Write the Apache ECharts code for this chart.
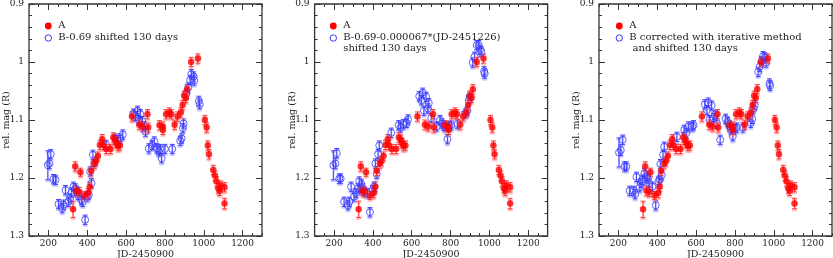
<!DOCTYPE html>
<html><head><meta charset="utf-8">
<script src="https://cdn.jsdelivr.net/npm/echarts@6/dist/echarts.min.js"></script>
<style>html,body{margin:0;padding:0;background:#fff}#c{width:833px;height:258px}</style>
</head><body><div id="c"></div>
<script>
// ---- Data ----
const xTickLabels = [200, 400, 600, 800, 1000, 1200];
const xMinorTicks = [100,150,250,300,350,450,500,550,650,700,750,850,900,950,1050,1100,1150,1250,1300];
const panelLegendB = [
  ['B-0.69 shifted 130 days'],
  ['B-0.69-0.000067*(JD-2451226)', 'shifted 130 days'],
  ['B corrected with iterative method', ' and shifted 130 days']
];

const aX = [327,338,365,344,359,386,405,413,420,436,444,455,465,477,482,498,520,534,544,551,558,568,630,668,685,710,714,772,789,790,806,823,833,850,865,882,891,899,908,915,935,970,1006,1015,1021,1027,1049,1058,1066,1075,1082,1088,1107,1107];
const aY = [1.254,1.180,1.190,1.222,1.224,1.230,1.226,1.215,1.188,1.175,1.171,1.162,1.143,1.133,1.143,1.150,1.150,1.130,1.134,1.140,1.145,1.144,1.094,1.108,1.111,1.090,1.113,1.109,1.111,1.117,1.090,1.087,1.090,1.108,1.094,1.087,1.074,1.058,1.062,1.047,1.000,0.994,1.100,1.113,1.144,1.159,1.186,1.196,1.206,1.218,1.222,1.213,1.216,1.244];
const aErr = [0.014,0.008,0.007,0.008,0.008,0.007,0.008,0.008,0.008,0.008,0.008,0.007,0.008,0.008,0.008,0.008,0.008,0.008,0.008,0.008,0.008,0.008,0.008,0.008,0.008,0.008,0.008,0.008,0.008,0.008,0.008,0.008,0.008,0.008,0.008,0.008,0.008,0.008,0.008,0.008,0.008,0.008,0.008,0.008,0.008,0.008,0.008,0.008,0.008,0.008,0.008,0.008,0.008,0.009];

const b1X = [197,205,212,226,237,252,271,278,288,303,312,319,329,339,347,353,370,377,389,401,408,415,422,429,436,497,544,556,570,583,638,649,659,666,673,683,693,700,717,735,745,759,769,776,783,800,838,879,886,893,896,910,920,930,936,948,951,975,979];
const b1Y = [1.178,1.175,1.159,1.202,1.203,1.245,1.252,1.246,1.221,1.241,1.235,1.225,1.215,1.218,1.224,1.229,1.238,1.241,1.272,1.232,1.229,1.189,1.209,1.160,1.175,1.143,1.132,1.135,1.132,1.125,1.089,1.093,1.084,1.100,1.090,1.102,1.111,1.120,1.149,1.143,1.137,1.149,1.154,1.150,1.166,1.150,1.150,1.136,1.132,1.114,1.106,1.055,1.044,1.031,1.021,1.025,1.032,1.067,1.073];

const b2X = [197,207,214,227,234,252,272,279,288,303,313,324,330,341,348,354,372,385,399,406,413,420,427,433,495,533,543,557,574,581,639,650,657,663,674,684,688,701,729,746,756,767,773,784,794,804,835,876,887,894,900,914,924,935,945,952,959,973,976];
const b2Y = [1.178,1.175,1.157,1.201,1.201,1.241,1.247,1.241,1.215,1.232,1.226,1.218,1.206,1.211,1.218,1.224,1.226,1.259,1.221,1.215,1.175,1.193,1.159,1.144,1.122,1.109,1.113,1.107,1.105,1.099,1.059,1.066,1.053,1.084,1.060,1.080,1.071,1.097,1.111,1.100,1.106,1.110,1.112,1.133,1.110,1.109,1.107,1.089,1.084,1.066,1.060,1.001,0.991,0.971,0.971,0.979,0.982,1.016,1.020];

const b3X = [203,212,222,231,241,258,279,286,293,310,316,323,334,344,351,358,375,392,406,412,416,423,430,436,501,539,549,560,580,587,645,656,663,669,680,690,697,707,724,752,762,772,779,789,800,810,841,882,889,896,902,920,928,937,945,954,961,978,981];
const b3Y = [1.156,1.152,1.134,1.180,1.180,1.222,1.222,1.228,1.198,1.216,1.209,1.203,1.192,1.197,1.201,1.209,1.215,1.247,1.206,1.203,1.176,1.195,1.160,1.146,1.129,1.117,1.123,1.111,1.111,1.109,1.073,1.083,1.070,1.100,1.075,1.097,1.091,1.106,1.134,1.098,1.103,1.111,1.116,1.128,1.114,1.113,1.113,1.105,1.098,1.080,1.074,1.017,1.008,0.999,0.990,0.992,1.001,1.037,1.041];

const bErr = [0.025,0.009,0.008,0.008,0.008,0.008,0.008,0.008,0.008,0.008,0.008,0.008,0.008,0.008,0.008,0.008,0.008,0.008,0.008,0.008,0.008,0.008,0.008,0.008,0.008,0.008,0.008,0.008,0.008,0.008,0.008,0.008,0.008,0.008,0.008,0.008,0.008,0.008,0.008,0.008,0.008,0.008,0.008,0.008,0.008,0.008,0.008,0.008,0.008,0.008,0.008,0.008,0.008,0.008,0.008,0.008,0.008,0.008,0.008];

const bSets = [[b1X,b1Y],[b2X,b2Y],[b3X,b3Y]];

// ---- Layout ----
const gridLefts = [29, 314.6, 599];
const gridW = 233, gridTop = 4, gridH = 232;
const FONT = 'DejaVu Serif';
const TXT = '#222';
const RED = '#ff0000', BLUE = '#3838ff';

const grids = [], xAxes = [], yAxes = [], series = [], graphics = [];

function errSeries(xs, ys, es, g, color, halo) {
  return {
    type: 'custom', xAxisIndex: 4*g, yAxisIndex: 2*g, silent: true, z: 2,
    data: xs.map((x,i)=>[x, ys[i], es[i]]),
    renderItem: function(params, api){
      const x = api.value(0), y = api.value(1), e = api.value(2);
      const p1 = api.coord([x, y-e]), p2 = api.coord([x, y+e]);
      const c = 2.5;
      const mk = (dy, col, w) => [
        {type:'line', shape:{x1:p1[0], y1:p1[1]+dy, x2:p2[0], y2:p2[1]+dy}, style:{stroke:col, lineWidth:w}},
        {type:'line', shape:{x1:p1[0]-c, y1:p1[1]+dy, x2:p1[0]+c, y2:p1[1]+dy}, style:{stroke:col, lineWidth:w}},
        {type:'line', shape:{x1:p2[0]-c, y1:p2[1]+dy, x2:p2[0]+c, y2:p2[1]+dy}, style:{stroke:col, lineWidth:w}}
      ];
      return {type:'group', children: mk(1.5, halo, 2).concat(mk(0, color, 1))};
    }
  };
}

for (let g=0; g<3; g++) {
  grids.push({left: gridLefts[g], top: gridTop, width: gridW, height: gridH, show: true,
    containLabel: false, outerBoundsMode: 'none',
    borderColor: '#333', borderWidth: 1.3, backgroundColor: 'transparent'});
  const baseX = {type:'value', gridIndex:g, min:100, max:1300, splitLine:{show:false}, axisLine:{show:false}};
  xAxes.push(Object.assign({}, baseX, {position:'bottom',
    name:'JD-2450900', nameLocation:'middle', nameGap:13.5, nameMoveOverlap:false,
    nameTextStyle:{fontFamily:FONT, fontSize:9.5, color:TXT},
    axisTick:{show:true, inside:true, length:6, customValues:xTickLabels, lineStyle:{color:'#333'}},
    axisLabel:{show:true, customValues:xTickLabels, margin:3, fontFamily:FONT, fontSize:9, color:TXT,
      formatter: v => String(v)}}));
  xAxes.push(Object.assign({}, baseX, {position:'bottom',
    axisTick:{show:true, inside:true, length:3, customValues:xMinorTicks, lineStyle:{color:'#333'}},
    axisLabel:{show:false}}));
  xAxes.push(Object.assign({}, baseX, {position:'top',
    axisTick:{show:true, inside:true, length:6, customValues:xTickLabels, lineStyle:{color:'#333'}},
    axisLabel:{show:false}}));
  xAxes.push(Object.assign({}, baseX, {position:'top',
    axisTick:{show:true, inside:true, length:3, customValues:xMinorTicks, lineStyle:{color:'#333'}},
    axisLabel:{show:false}}));
  const baseY = {type:'value', gridIndex:g, min:0.9, max:1.3, interval:0.1, inverse:true,
    splitLine:{show:false}, axisLine:{show:false},
    axisTick:{show:true, inside:true, length:6, lineStyle:{color:'#333'}},
    minorTick:{show:true, splitNumber:5, length:3, lineStyle:{color:'#333'}}};
  yAxes.push(Object.assign({}, baseY, {position:'left',
    name:'rel. mag (R)', nameLocation:'middle', nameGap:17, nameRotate:90, nameMoveOverlap:false,
    nameTextStyle:{fontFamily:FONT, fontSize:9.5, color:TXT},
    axisLabel:{show:true, margin:5, fontFamily:FONT, fontSize:9, color:TXT}}));
  yAxes.push(Object.assign({}, baseY, {position:'right', axisLabel:{show:false}}));

  const [bx, by] = bSets[g];
  series.push(errSeries(bx, by, bErr, g, 'rgba(50,50,255,0.9)', 'rgba(150,150,255,0.45)'));
  series.push(errSeries(aX, aY, aErr, g, 'rgba(255,40,40,0.9)', 'rgba(255,140,140,0.5)'));
  series.push({type:'scatter', name:'B', xAxisIndex:4*g, yAxisIndex:2*g, z:3,
    symbol:'circle', symbolSize:7,
    itemStyle:{color:'rgba(255,255,255,0)', borderColor:BLUE, borderWidth:1},
    data: bx.map((x,i)=>[x, by[i]])});
  series.push({type:'scatter', name:'A', xAxisIndex:4*g, yAxisIndex:2*g, z:4,
    symbol:'circle', symbolSize:6.5, itemStyle:{color:RED},
    data: aX.map((x,i)=>[x, aY[i]])});

  // legend
  const lx = [48.3, 333.3, 619.3][g];
  const tx = lx + 10;
  graphics.push({type:'circle', shape:{cx:lx, cy:26, r:3.4}, style:{fill:RED}});
  graphics.push({type:'circle', shape:{cx:lx, cy:38, r:3.2}, style:{fill:'transparent', stroke:BLUE, lineWidth:1}});
  graphics.push({type:'text', x:tx, y:25.5, style:{text:'A', font:'10px "'+FONT+'"', fill:TXT, verticalAlign:'middle'}});
  panelLegendB[g].forEach((t,i)=>{
    graphics.push({type:'text', x:tx, y:37 + i*11.5, style:{text:t, font:'10px "'+FONT+'"', fill:TXT, verticalAlign:'middle'}});
  });
}

const chart = echarts.init(document.getElementById('c'), null, {renderer:'canvas'});
chart.setOption({animation:false, grid:grids, xAxis:xAxes, yAxis:yAxes, series:series, graphic:graphics});
</script></body></html>
